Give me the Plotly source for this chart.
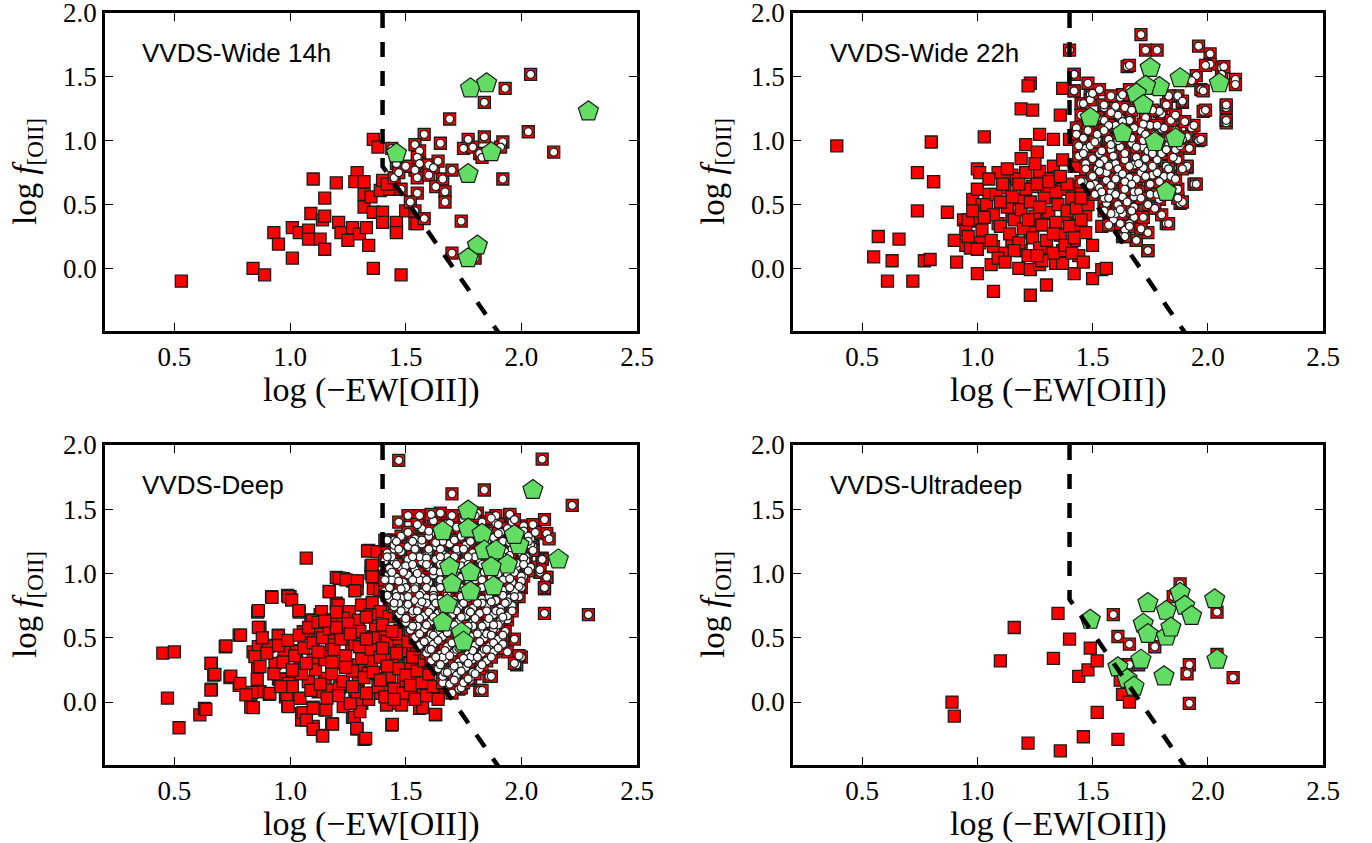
import plotly.graph_objects as go

# ---------------- data ----------------
panel_titles = ["VVDS-Wide 14h", "VVDS-Wide 22h", "VVDS-Deep", "VVDS-Ultradeep"]
x_ticks = [0.5, 1.0, 1.5, 2.0, 2.5]
y_ticks = [0.0, 0.5, 1.0, 1.5, 2.0]
sep_x = [1.4, 1.4, 1.9]
sep_y = [2.0, 0.8, -0.5]

# VVDS-Wide 14h
w14_red = [(0.53,-0.10),(0.84,0.00),(0.89,-0.05),(0.93,0.28),(0.95,0.19),(1.01,0.08),(1.01,0.32),(1.04,0.28),
           (1.08,0.30),(1.09,0.43),(1.08,0.23),(1.10,0.70),(1.14,0.38),(1.15,0.41),(1.15,0.55),(1.13,0.23),
           (1.15,0.15),(1.20,0.67),(1.21,0.36),(1.22,0.28),(1.25,0.22),(1.27,0.32),(1.29,0.75),(1.28,0.68),
           (1.30,0.27),(1.32,0.68),(1.32,0.58),(1.32,0.48),(1.33,0.32),(1.34,0.18),(1.35,0.56),(1.36,0.44),
           (1.36,1.01),(1.38,0.95),(1.36,0.00),(1.39,0.61),(1.40,0.69),(1.40,0.44),(1.40,0.36),(1.43,0.62),
           (1.46,0.30),(1.46,0.36),(1.48,-0.05),(1.50,0.45),(1.54,0.35),(1.55,0.35),(1.42,0.66),(1.46,0.28)]
w14_circ = [(2.04,1.52),(1.93,1.41),(1.84,1.30),(1.69,1.17),(2.03,1.07),(2.14,0.91),(1.92,0.70),(1.84,1.03),
            (1.92,0.99),(1.91,0.95),(1.77,1.01),(1.75,0.94),(1.79,0.95),(1.82,0.90),(1.83,0.87),(1.65,0.98),
            (1.58,1.05),(1.54,0.97),(1.56,0.92),(1.55,0.87),(1.56,0.82),(1.54,0.77),(1.55,0.71),(1.60,0.81),
            (1.62,0.79),(1.60,0.73),(1.64,0.84),(1.63,0.64),(1.66,0.70),(1.67,0.60),(1.67,0.52),(1.70,0.77),
            (1.50,0.80),(1.46,0.82),(1.45,0.71),(1.48,0.62),(1.55,0.59),(1.52,0.52),(1.54,0.45),(1.58,0.39),
            (1.74,0.37),(1.70,0.12),(1.80,0.08),(1.44,0.94),(1.47,0.75)]
w14_pent = [(1.46,0.90),(1.78,1.41),(1.85,1.45),(2.29,1.23),(1.87,0.91),(1.77,0.74),(1.81,0.18),(1.77,0.08)]

# VVDS-Wide 22h
w22_red = [(0.39,0.96),(0.57,0.25),(0.55,0.09),(0.61,-0.10),(0.63,0.06),(0.66,0.23),(0.72,-0.10),(0.74,0.45),
           (0.74,0.75),(0.77,0.06),(0.80,0.99),(0.81,0.68),(0.795,0.07),(0.81,0.68),
           (1.23,1.45),(1.22,1.43),(1.37,1.41),(1.19,1.25),(1.24,1.24),(1.36,1.20),(1.03,1.03),(1.27,1.05),
           (1.33,1.01),(1.21,0.97),(1.40,1.01),(1.19,0.86),(1.26,0.91),(1.00,0.78),(1.09,0.75),(1.15,0.73),
           (1.21,0.75),(1.27,0.76),(1.33,0.80),(1.37,0.85),(0.87,0.44),(0.98,0.54),(1.05,0.58),(1.12,0.63),
           (1.18,0.54),(1.24,0.64),(1.30,0.59),(1.34,0.56),(1.40,0.64),(1.45,0.59),(0.94,0.38),(0.99,0.37),
           (1.09,0.35),(1.15,0.41),(1.23,0.38),(1.29,0.43),(1.34,0.30),(1.39,0.41),(1.43,0.34),(1.47,0.42),
           (1.54,0.33),(0.90,0.22),(0.95,0.18),(1.01,0.20),(1.07,0.17),(1.15,0.22),(1.19,0.14),(1.23,0.28),
           (1.30,0.14),(1.37,0.14),(1.42,0.22),(1.50,0.18),(0.91,0.05),(1.00,-0.04),(1.06,0.03),(1.18,0.00),
           (1.23,-0.01),(1.27,0.03),(1.34,0.04),(1.37,0.04),(1.42,-0.04),(1.50,-0.08),(1.54,-0.01),(1.56,0.00),
           (1.07,-0.18),(1.23,-0.21),(1.30,-0.13),(0.97,0.16),(0.95,0.30),(0.96,0.38),(1.02,0.50),(1.01,0.75),
           (0.98,0.45),(1.00,0.62),(1.02,0.30),(1.04,0.50),(1.05,0.70),(1.06,0.22),(1.07,0.42),(1.08,0.58),
           (1.10,0.33),(1.11,0.66),(1.12,0.12),(1.13,0.48),(1.14,0.27),(1.15,0.56),(1.16,0.38),(1.17,0.70),
           (1.18,0.20),(1.19,0.46),(1.20,0.31),(1.21,0.62),(1.22,0.10),(1.23,0.52),(1.24,0.24),(1.25,0.41),
           (1.26,0.66),(1.27,0.16),(1.28,0.34),(1.29,0.55),(1.30,0.22),(1.31,0.44),(1.32,0.70),(1.33,0.12),
           (1.34,0.36),(1.35,0.50),(1.36,0.26),(1.37,0.62),(1.38,0.18),(1.39,0.45),(1.40,0.33),(1.41,0.55),
           (1.42,0.24),(1.43,0.47),(1.44,0.10),(1.45,0.38),(1.47,0.28),(1.48,0.50),(1.10,0.52),(1.16,0.14),
           (1.22,0.38),(1.28,0.06),(1.34,0.60),(1.03,0.40),(1.09,0.08),(1.21,0.75),(1.27,0.48),(1.33,0.27),
           (1.39,0.66),(1.45,0.55),(0.96,0.25),(1.00,0.15),(1.13,0.78),(1.25,0.82),(1.31,0.68),(1.18,0.66),
           (1.36,0.72),(1.42,0.80),(1.12,0.05),(1.26,0.10),(1.41,0.12),(1.46,0.05)]
w22_circ = [(1.71,1.83),(1.73,1.71),(1.78,1.71),(1.40,1.71),(1.96,1.74),(2.01,1.68),(2.01,1.60),(2.06,1.57),
            (1.65,1.58),(2.06,1.52),(2.12,1.48),(2.12,1.44),(1.95,1.51),(1.93,1.47),(1.97,1.40),(1.89,1.30),
            (1.87,1.35),(1.83,1.35),(1.80,1.21),(1.98,1.23),(2.08,1.26),(2.08,1.14),(1.93,1.10),(1.91,1.03),
            (1.96,1.00),(1.92,0.94),(1.91,0.79),(1.94,0.66),(1.88,0.51),(1.82,0.35),(1.80,1.09),(1.42,1.52),
            (1.42,1.39),(1.49,1.36),(1.49,1.32),(1.45,1.29),(1.62,1.34),(1.70,1.31),(1.55,1.26),(1.60,1.26),
            (1.64,1.26),(1.62,1.18),(1.66,1.17),(1.55,1.16),(1.43,1.10),(1.50,1.14),(1.60,1.12),(1.68,0.56),
            (1.68,0.40),(1.66,0.35),(1.64,0.30),(1.71,0.30),(1.69,0.22),(1.74,0.14),(1.63,0.25),(1.59,0.38),
            (1.60,0.43),(1.56,0.51),(1.51,0.66),(1.46,0.68),(1.51,0.58),
            (1.42,1.52),(1.42,1.39),(1.50,1.37),(1.46,1.29),(1.55,1.28),(1.60,1.27),(1.63,1.36),(1.66,1.59),
            (1.99,1.59),(2.07,1.58),(1.98,1.39),(1.89,1.31),(1.99,1.24),(2.08,1.28),(2.08,1.16),(1.79,1.23),
            (1.94,1.12),(1.97,1.01),(1.92,0.94),(1.91,0.80),(1.95,0.66),(1.89,0.52),(1.83,0.35),(1.74,0.14),
            (1.69,0.22),(1.64,0.25),(1.62,0.35),(1.58,0.43),(1.55,0.55),(1.49,0.65),(1.45,0.68),(1.43,1.05),
            (1.52,1.01),(1.57,1.11),(1.61,1.20),(1.66,1.16),(1.71,1.08),(1.75,1.12),(1.81,1.10),(1.86,1.08),
            (1.89,1.01),(1.83,0.97),(1.76,0.98),(1.72,0.95),(1.67,0.98),(1.62,0.95),(1.58,0.93),(1.53,0.90),
            (1.47,0.94),(1.44,0.88),(1.47,0.82),(1.52,0.78),(1.55,0.85),(1.60,0.82),(1.64,0.85),(1.68,0.81),
            (1.73,0.86),(1.78,0.85),(1.82,0.80),(1.87,0.85),(1.81,0.72),(1.76,0.73),(1.71,0.75),(1.66,0.71),
            (1.61,0.72),(1.56,0.69),(1.53,0.63),(1.58,0.60),(1.63,0.56),(1.68,0.60),(1.75,0.58),(1.79,0.54),
            (1.87,0.55),(1.68,0.48),(1.63,0.43),(1.66,0.33),(1.74,0.28),(1.71,0.31),
            (1.46,1.02),(1.49,0.96),(1.52,1.05),(1.54,0.92),(1.57,1.01),(1.59,0.88),(1.62,1.06),(1.64,0.90),
            (1.67,1.02),(1.69,0.87),(1.72,1.00),(1.74,0.92),(1.77,1.05),(1.80,0.90),(1.83,1.02),(1.86,0.93),
            (1.47,0.78),(1.50,0.72),(1.53,0.82),(1.56,0.75),(1.58,0.65),(1.61,0.78),(1.64,0.68),(1.66,0.80),
            (1.69,0.70),(1.72,0.79),(1.75,0.66),(1.78,0.75),(1.81,0.64),(1.84,0.72),(1.87,0.62),(1.52,1.18),
            (1.57,1.12),(1.63,1.15),(1.68,1.10),(1.73,1.18),(1.78,1.12),(1.84,1.16),(1.70,0.60),(1.74,0.50),
            (1.78,0.58),(1.60,0.58),(1.65,0.52),
            (1.45,1.20),(1.48,1.08),(1.51,0.99),(1.55,1.08),(1.58,0.97),(1.61,1.00),(1.65,1.09),(1.69,0.95),
            (1.73,1.05),(1.76,0.90),(1.79,1.00),(1.82,0.93),(1.85,0.87),(1.88,0.96),(1.44,0.96),(1.46,0.90),
            (1.50,0.86),(1.53,0.76),(1.57,0.80),(1.60,0.70),(1.63,0.74),(1.67,0.66),(1.70,0.82),(1.73,0.72),
            (1.76,0.80),(1.79,0.68),(1.83,0.78),(1.86,0.70),(1.89,0.78),(1.54,0.60),(1.57,0.55),(1.61,0.50),
            (1.64,0.62),(1.67,0.45),(1.71,0.55),(1.72,0.40),(1.77,0.47),(1.80,0.42),(1.58,1.22),(1.67,1.24),
            (1.72,1.13),(1.76,1.24),(1.82,1.28),(1.86,1.20),(1.90,1.15),(1.48,1.45),(1.53,1.40),(1.58,1.35),
            (1.66,1.40),(1.62,0.46),(1.57,0.34),(1.55,0.45)]
w22_pent = [(1.75,1.57),(1.88,1.49),(2.05,1.45),(1.79,1.42),(1.73,1.43),(1.69,1.37),(1.72,1.28),(1.49,1.18),
            (1.63,1.06),(1.77,0.99),(1.86,1.02),(1.82,0.60)]

# VVDS-Deep
deep_red = [(0.45,0.38),(0.50,0.39),(0.47,0.03),(0.52,-0.20),(0.61,-0.10),(0.63,-0.05),(0.66,0.30),(0.67,0.21),
            (0.66,0.10),(0.72,0.43),(0.74,0.19),(0.78,0.52),(0.78,0.13),(0.83,0.06),(0.83,-0.04),(0.86,0.70),
            (0.87,0.58),(0.84,0.39),(0.86,0.27),(0.87,0.08),(0.91,0.06),(0.92,0.82),(0.91,0.44),(0.95,0.52),
            (0.95,0.18),(0.98,0.12),(0.98,0.04),(0.99,-0.03),(0.99,0.83),(1.00,0.82),(1.00,0.18),(1.02,0.40),
            (1.03,0.03),(1.04,0.70),(1.05,-0.09),(1.05,-0.14),(1.07,1.12),(1.07,0.53),(1.09,0.64),(1.10,-0.19),
            (1.10,-0.04),(1.13,0.68),(1.14,-0.26),(1.15,-0.06),(1.15,0.18),(1.18,-0.17),(1.19,0.64),(1.20,0.77),
            (1.17,0.86),(1.20,0.97),(1.23,0.96),(1.27,0.94),(1.29,0.94),(1.29,0.88),(1.27,-0.12),(1.29,-0.21),
            (1.32,-0.29),(1.31,-0.01),(1.34,1.18),(1.35,1.06),(1.35,1.00),(1.36,0.88),(1.44,-0.18),(1.63,-0.10),
            (1.56,-0.05),(1.59,0.10),(1.64,0.05),(1.51,0.06),(1.44,-0.01),
            (1.335,1.175),(1.355,1.066),(1.377,1.17),(1.213,0.963),(1.242,0.95),(1.291,0.942),(1.28,0.866),
            (1.169,0.859),(1.355,0.975),(1.388,0.872),(0.922,0.815),(0.992,0.82),(1.007,0.794),(1.038,0.711),
            (0.863,0.711),(1.208,0.755),(1.256,0.703),(1.309,0.755),(1.355,0.773),(1.391,0.703),(1.136,0.703),
            (1.18,0.638),(1.23,0.651),(1.295,0.638),(1.345,0.677),(1.429,0.664),(0.863,0.581),(0.786,0.521),
            (0.949,0.514),(1.057,0.547),(1.096,0.633),(1.129,0.535),(1.19,0.522),(1.249,0.56),(1.302,0.547),
            (1.36,0.509),(1.403,0.509),(1.453,0.521),(1.475,0.56),(0.723,0.436),(0.863,0.431),(0.906,0.436),
            (0.974,0.405),(1.028,0.392),(1.136,0.384),(1.18,0.444),(1.266,0.452),(1.331,0.41),(1.396,0.444),
            (1.42,0.392),(1.468,0.444),(1.508,0.379),(1.547,0.431),(0.658,0.301),(0.848,0.353),(0.87,0.275),
            (0.935,0.301),(1.043,0.275),(1.10,0.327),(1.201,0.301),(1.244,0.27),(1.295,0.288),(1.353,0.314),
            (1.417,0.301),(1.46,0.275),(1.518,0.301),(1.569,0.275),(0.675,0.215),(0.744,0.202),(0.858,0.176),
            (0.956,0.176),(0.992,0.145),(1.079,0.158),(1.151,0.184),(1.216,0.145),(1.295,0.171),(1.338,0.223),
            (1.41,0.184),(1.489,0.166),(1.533,0.197),(1.593,0.119),(0.783,0.145),(0.658,0.093),(0.834,0.075),
            (0.913,0.068),(0.986,0.055),(1.043,0.029),(1.122,0.08),(1.169,0.093),(1.213,0.106),(1.28,0.093),
            (1.36,0.068),(1.425,0.08),(1.475,0.021),(1.525,0.055),(1.576,0.08),(1.641,0.068),(0.809,0.055),
            (0.636,-0.057),(0.841,-0.044),(0.992,-0.036),(1.057,-0.083),(1.10,-0.049),(1.155,-0.062),
            (1.23,-0.036),(1.278,-0.119),(1.305,-0.005),(1.302,-0.075),(1.417,-0.023),(1.482,-0.023),
            (1.573,-0.044),(1.628,-0.096),(1.071,-0.14),(1.184,-0.171),(1.10,-0.213),(1.141,-0.265),
            (1.288,-0.205),(1.327,-0.283),(1.442,-0.174),
            (0.88,0.50),(0.90,0.38),(0.93,0.22),(0.95,0.44),(0.97,0.31),(0.99,0.48),(1.01,0.12),(1.02,0.36),
            (1.04,0.52),(1.05,0.22),(1.06,0.42),(1.08,0.58),(1.09,0.09),(1.10,0.46),(1.11,0.25),(1.12,0.62),
            (1.13,0.14),(1.14,0.50),(1.15,0.33),(1.16,0.03),(1.17,0.57),(1.18,0.22),(1.19,0.41),(1.20,0.70),
            (1.21,0.05),(1.22,0.49),(1.23,0.16),(1.24,0.36),(1.25,0.61),(1.26,-0.01),(1.27,0.24),(1.28,0.45),
            (1.29,0.08),(1.30,0.55),(1.31,0.34),(1.32,0.19),(1.33,0.66),(1.34,0.02),(1.35,0.41),(1.36,0.23),
            (1.37,0.57),(1.38,0.12),(1.39,0.35),(1.40,0.60),(1.41,0.04),(1.42,0.47),(1.43,0.20),(1.44,0.33),
            (1.45,0.10),(1.46,0.53),(1.47,0.26),(1.48,0.40),(1.49,0.07),(1.50,0.21),(1.51,0.47),(1.52,0.13),
            (1.53,0.35),(1.54,0.02),(1.55,0.24),(1.56,0.41),(1.57,0.15),(1.58,0.32),(1.59,0.05),(1.60,0.22),
            (1.61,0.30),(1.62,0.12),(1.64,0.02),(1.12,0.39),(1.18,0.31),(1.24,0.27),(1.30,0.43),(1.36,0.50),
            (1.42,0.28),(1.46,0.38),(1.07,0.30),(1.01,0.25),(0.96,0.12),(1.27,0.12),(1.33,0.07),(1.39,0.17),
            (1.45,0.02),(1.20,0.58),(1.15,0.63),(1.26,0.53),(1.33,0.49),(1.40,0.42),(1.44,0.55)]
deep_circ = [(1.47,1.88),(2.09,1.89),(1.70,1.62),(1.84,1.65),(2.22,1.53),(1.51,1.45),(1.56,1.45),(1.65,1.47),
             (1.41,1.26),(1.45,1.26),(1.45,1.19),(1.54,1.23),(2.10,1.42),(2.11,1.31),(2.12,1.27),(2.09,1.12),
             (2.08,1.01),(2.11,0.97),(2.10,0.88),(2.10,0.69),(2.29,0.68),(2.00,0.35),(1.98,0.29),(1.86,0.20),
             (1.82,0.09),(1.73,0.10),(1.67,0.13),(1.97,0.49),(1.94,0.39),(1.90,0.42),(2.05,1.22),(2.01,1.36),
             (1.95,1.45),(1.89,1.45),(1.81,1.47),(1.89,1.39),(1.95,1.46),(1.96,1.40),(2.01,1.37),(2.04,1.27),
             (2.05,1.21),(1.42,1.26),(1.55,1.23),(1.59,1.14),(1.61,1.31),(1.68,1.39),(1.74,1.29),(1.91,1.32),
             (1.93,1.25),(2.09,1.11),(2.08,1.03),(2.11,0.97),(2.10,0.89),(2.02,1.13),(2.04,1.05),(2.01,0.98),
             (2.00,0.89),(1.99,0.82),(1.96,0.74),(1.94,0.64),(1.89,0.57),(1.92,0.51),(1.99,0.36),(1.97,0.30),
             (1.89,0.40),(1.87,0.20),(1.83,0.09),(1.78,0.17),(1.74,0.11),(1.66,0.15),(1.70,0.07),
             (1.62,1.41),(1.69,1.39),(1.75,1.42),(1.83,1.40),(1.90,1.38),(1.57,1.35),(1.64,1.33),(1.72,1.36),
             (1.79,1.34),(1.86,1.33),(1.94,1.35),(2.01,1.33),(1.48,1.29),(1.54,1.27),(1.60,1.29),(1.67,1.27),
             (1.74,1.29),(1.81,1.27),(1.88,1.28),(1.96,1.27),(2.03,1.29),(1.45,1.22),(1.51,1.21),(1.57,1.23),
             (1.63,1.21),(1.69,1.23),(1.76,1.22),(1.83,1.21),(1.90,1.23),(1.97,1.21),(2.04,1.22),(1.42,1.16),
             (1.48,1.17),(1.54,1.15),(1.60,1.17),(1.66,1.15),(1.72,1.17),(1.79,1.16),(1.86,1.15),(1.93,1.17),
             (2.00,1.16),(1.41,1.10),(1.45,1.09),(1.51,1.11),(1.57,1.09),(1.63,1.11),(1.69,1.10),(1.75,1.09),
             (1.82,1.11),(1.89,1.09),(1.95,1.11),(2.02,1.10),(1.43,1.04),(1.48,1.05),(1.54,1.03),(1.60,1.05),
             (1.66,1.04),(1.72,1.03),(1.79,1.05),(1.85,1.04),(1.92,1.03),(1.98,1.05),(1.41,0.98),(1.46,0.97),
             (1.51,0.99),(1.57,0.97),(1.62,0.99),(1.68,0.98),(1.74,0.97),(1.81,0.99),(1.87,0.97),(1.94,0.99),
             (2.00,0.98),(1.43,0.92),(1.49,0.93),(1.54,0.91),(1.60,0.93),(1.65,0.92),(1.71,0.91),(1.77,0.93),
             (1.84,0.92),(1.90,0.91),(1.96,0.93),(1.41,0.86),(1.46,0.85),(1.51,0.87),(1.57,0.85),(1.62,0.87),
             (1.68,0.86),(1.74,0.85),(1.80,0.87),(1.86,0.85),(1.92,0.87),(1.97,0.86),(1.43,0.80),(1.48,0.81),
             (1.54,0.79),(1.59,0.81),(1.65,0.80),(1.71,0.79),(1.77,0.81),(1.83,0.80),(1.89,0.79),(1.95,0.81),
             (1.45,0.74),(1.50,0.73),(1.56,0.75),(1.61,0.73),(1.67,0.75),(1.73,0.74),(1.79,0.73),(1.85,0.75),
             (1.91,0.73),(1.96,0.75),(1.47,0.68),(1.53,0.69),(1.58,0.67),(1.64,0.69),(1.70,0.68),(1.76,0.67),
             (1.82,0.69),(1.88,0.68),(1.94,0.67),(1.50,0.62),(1.55,0.61),(1.61,0.63),(1.67,0.61),(1.73,0.63),
             (1.79,0.62),(1.85,0.61),(1.91,0.63),(1.52,0.56),(1.58,0.57),(1.64,0.55),(1.70,0.57),(1.76,0.56),
             (1.82,0.55),(1.88,0.57),(1.93,0.55),(1.54,0.50),(1.60,0.49),(1.66,0.51),(1.72,0.49),(1.78,0.51),
             (1.84,0.50),(1.90,0.49),(1.56,0.44),(1.62,0.45),(1.68,0.43),(1.74,0.45),(1.80,0.44),(1.86,0.43),
             (1.92,0.45),(1.59,0.38),(1.65,0.37),(1.71,0.39),(1.77,0.37),(1.83,0.38),(1.88,0.39),(1.61,0.32),
             (1.67,0.33),(1.73,0.31),(1.79,0.33),(1.85,0.32),(1.64,0.26),(1.70,0.25),(1.76,0.27),(1.82,0.26),
             (1.66,0.20),(1.72,0.21),(1.78,0.19),(1.69,0.14),(1.75,0.15),
             (1.44,1.13),(1.50,1.06),(1.56,1.13),(1.62,1.02),(1.68,1.13),(1.74,1.06),(1.80,1.13),(1.86,1.07),
             (1.92,1.13),(1.98,1.08),(1.44,0.95),(1.50,0.89),(1.56,0.95),(1.62,0.83),(1.68,0.95),(1.74,0.89),
             (1.80,0.95),(1.86,0.89),(1.92,0.95),(1.47,0.77),(1.53,0.71),(1.59,0.77),(1.65,0.65),(1.71,0.77),
             (1.77,0.71),(1.83,0.77),(1.89,0.71),(1.94,0.78),(1.55,0.59),(1.61,0.53),(1.67,0.59),(1.73,0.53),
             (1.79,0.59),(1.85,0.53),(1.90,0.60),(1.60,0.41),(1.66,0.35),(1.72,0.41),(1.78,0.35),(1.84,0.41),
             (1.67,0.23),(1.73,0.28),(1.79,0.23),(1.53,1.25),(1.60,1.19),(1.66,1.25),(1.72,1.19),(1.78,1.25),
             (1.85,1.19),(1.92,1.25),(1.99,1.19),(1.66,1.37),(1.77,1.31),(1.90,1.31),
             (1.47,1.40),(1.55,1.38),(1.61,1.46),(1.70,1.45),(1.80,1.45),(1.87,1.43),(1.97,1.42),(2.05,1.38),
             (1.51,1.32),(1.60,1.33),(1.68,1.31),(1.83,1.33),(1.98,1.31),(2.06,1.32),(1.46,1.25),(1.57,1.26),
             (1.63,1.24),(1.71,1.26),(1.85,1.25),(1.95,1.24),(2.03,1.25),(1.47,1.19),(1.54,1.19),(1.65,1.19),
             (1.75,1.19),(1.82,1.18),(1.96,1.19),(2.05,1.18),(1.42,1.13),(1.53,1.13),(1.59,1.12),(1.65,1.13),
             (1.71,1.13),(1.77,1.13),(1.83,1.14),(1.89,1.13),(1.95,1.14),(2.01,1.12),(1.46,1.07),(1.53,1.07),
             (1.59,1.07),(1.65,1.07),(1.71,1.07),(1.77,1.07),(1.83,1.07),(1.89,1.06),(1.95,1.07),(2.01,1.07),
             (1.44,1.01),(1.49,1.01),(1.55,1.00),(1.65,1.01),(1.71,1.00),(1.77,1.01),(1.84,1.01),(1.90,1.00),
             (1.97,1.01),(2.03,1.02),(1.41,0.95),(1.47,0.94),(1.53,0.95),(1.59,0.95),(1.65,0.95),(1.71,0.95),
             (1.77,0.95),(1.83,0.95),(1.89,0.94),(1.95,0.96),(2.00,0.94),(1.43,0.89),(1.48,0.88),(1.54,0.88),
             (1.59,0.89),(1.65,0.89),(1.71,0.88),(1.77,0.89),(1.83,0.89),(1.89,0.88),(1.95,0.89),(1.99,0.90),
             (1.42,0.83),(1.46,0.82),(1.51,0.82),(1.56,0.83),(1.62,0.81),(1.68,0.83),(1.74,0.82),(1.80,0.83),
             (1.86,0.82),(1.92,0.83),(1.97,0.82),(1.45,0.77),(1.51,0.76),(1.57,0.78),(1.63,0.77),(1.69,0.77),
             (1.75,0.77),(1.81,0.77),(1.87,0.78),(1.93,0.77),(1.48,0.71),(1.55,0.71),(1.60,0.70),(1.66,0.71),
             (1.72,0.71),(1.78,0.70),(1.85,0.71),(1.91,0.70),(1.96,0.71),(1.50,0.65),(1.56,0.65),(1.62,0.66),
             (1.68,0.65),(1.74,0.66),(1.80,0.65),(1.86,0.65),(1.92,0.66),(1.53,0.59),(1.59,0.60),(1.65,0.58),
             (1.71,0.60),(1.77,0.59),(1.83,0.59),(1.88,0.60),(1.56,0.53),(1.62,0.52),(1.68,0.54),(1.75,0.53),
             (1.81,0.53),(1.87,0.52),(1.92,0.52),(1.58,0.47),(1.64,0.48),(1.70,0.46),(1.76,0.48),(1.82,0.47),
             (1.88,0.46),(1.61,0.41),(1.67,0.40),(1.73,0.42),(1.79,0.40),(1.85,0.41),(1.90,0.42),(1.63,0.35),
             (1.69,0.36),(1.75,0.34),(1.81,0.35),(1.87,0.35),(1.65,0.29),(1.71,0.28),(1.77,0.30),(1.83,0.29),
             (1.68,0.23),(1.74,0.24),(1.80,0.22),(1.71,0.17),(1.77,0.18)]
deep_pent = [(2.05,1.65),(2.16,1.11),(1.77,1.49),(1.66,1.33),(1.77,1.35),(1.83,1.31),(1.84,1.18),(1.89,1.18),
             (1.99,1.22),(1.94,1.07),(1.87,1.05),(1.69,1.05),(1.78,1.01),(1.70,0.92),(1.78,0.86),(1.88,0.90),
             (1.68,0.76),(1.66,0.62),(1.74,0.54),(1.75,0.47),(1.97,1.30)]

# VVDS-Ultradeep
ud_red = [(0.89,0.00),(0.90,-0.11),(1.10,0.32),(1.16,0.58),(1.22,-0.32),(1.33,0.34),(1.35,0.69),(1.36,-0.38),
          (1.40,0.49),(1.44,0.20),(1.46,-0.27),(1.48,0.25),(1.49,0.42),(1.52,-0.08),(1.52,0.32),(1.61,-0.29),
          (1.62,0.17),(1.63,0.06),(1.66,0.00),(1.64,0.29)]
ud_circ = [(1.59,0.68),(1.61,0.51),(1.66,0.45),(1.77,0.43),(1.88,0.92),(1.85,0.82),(2.04,0.70),(2.04,0.37),
           (1.92,0.29),(1.91,0.22),(1.92,-0.01),(2.11,0.19),(1.66,0.29),(1.70,0.29)]
ud_pent = [(1.49,0.64),(1.61,0.27),(1.71,0.33),(1.65,0.18),(1.68,0.12),(1.74,0.77),(1.72,0.61),(1.74,0.53),
           (1.82,0.71),(1.82,0.51),(1.84,0.58),(1.88,0.85),(1.90,0.75),(1.93,0.67),(1.81,0.20),(2.03,0.80),
           (2.04,0.33)]

panels = [(w14_red, w14_circ, w14_pent), (w22_red, w22_circ, w22_pent),
          (deep_red, deep_circ, deep_pent), (ud_red, ud_circ, ud_pent)]

# ---------------- figure ----------------
W, H = 1372, 843
RED = "#ff0000"
GREEN = "#63dc63"
OUTLINE = "#1a1a1a"

# panel frames in pixels (left, right, top, bottom)
frames = [(105, 637, 13, 331), (793, 1323, 13, 331), (105, 637, 445, 765), (793, 1323, 445, 765)]

fig = go.Figure()
SERIF = "Liberation Serif, Times New Roman, serif"
SANS = "Liberation Sans, Arial, sans-serif"

def unzip(pts):
    return [p[0] for p in pts], [p[1] for p in pts]

layout = dict(template="none", width=W, height=H,
              margin=dict(l=0, r=0, t=0, b=0, pad=0, autoexpand=False),
              paper_bgcolor="white", plot_bgcolor="white", showlegend=False,
              font=dict(family=SERIF, color="black"))
annotations = []
for i, (red, circ, pent) in enumerate(panels):
    n = "" if i == 0 else str(i + 1)
    xa, ya = "x" + n, "y" + n
    sq_pts = red + circ
    sx, sy = unzip(sq_pts)
    fig.add_trace(go.Scatter(x=sx, y=sy, xaxis=xa, yaxis=ya, mode="markers", cliponaxis=True,
                             marker=dict(symbol="square", size=12, color=RED,
                                         line=dict(color=OUTLINE, width=1.3))))
    cx, cy = unzip(circ)
    fig.add_trace(go.Scatter(x=cx, y=cy, xaxis=xa, yaxis=ya, mode="markers", cliponaxis=True,
                             marker=dict(symbol="circle", size=8, color="white",
                                         line=dict(color=OUTLINE, width=1.2))))
    px_, py_ = unzip(pent)
    fig.add_trace(go.Scatter(x=px_, y=py_, xaxis=xa, yaxis=ya, mode="markers", cliponaxis=True,
                             marker=dict(symbol="pentagon", size=21, color=GREEN,
                                         line=dict(color=OUTLINE, width=1.2))))
    fig.add_trace(go.Scatter(x=sep_x, y=sep_y, xaxis=xa, yaxis=ya, mode="lines",
                             line=dict(color="black", width=4.5, dash="15px,14px")))
    l, r, t, b = frames[i]
    axis_common = dict(showline=True, linewidth=2.5, linecolor="black", mirror="ticks",
                       ticks="inside", ticklen=8, tickwidth=1.3, tickcolor="black",
                       showgrid=False, zeroline=False, automargin=False, ticklabeloverflow="allow",
                       tickfont=dict(family=SERIF, size=27, color="black"))
    layout["xaxis" + n] = dict(axis_common, domain=[l / W, r / W], range=[0.2, 2.5], anchor=ya,
                               tickvals=x_ticks, ticktext=["%.1f" % v for v in x_ticks])
    layout["yaxis" + n] = dict(axis_common, domain=[1 - b / H, 1 - t / H], range=[-0.49, 2.0], anchor=xa,
                               tickvals=y_ticks, ticktext=["%.1f" % v for v in y_ticks])
    annotations.append(dict(text=panel_titles[i], xref=xa, yref=ya, x=0.35, y=1.69,
                            xanchor="left", yanchor="middle", showarrow=False,
                            font=dict(family=SANS, size=26, color="black")))
    annotations.append(dict(text="log (\u2212EW[OII])", xref="paper", yref="paper",
                            x=(l + r) / 2 / W, y=1 - (b + 59) / H, xanchor="center", yanchor="middle",
                            showarrow=False, font=dict(family=SERIF, size=34, color="black")))
    annotations.append(dict(text="log <i>f</i><sub>[OII]</sub>", xref="paper", yref="paper",
                            x=(l - 78) / W, y=1 - (t + b) / 2 / H, xanchor="center", yanchor="middle",
                            textangle=-90, showarrow=False,
                            font=dict(family=SERIF, size=33, color="black")))

layout["annotations"] = annotations
fig.update_layout(**layout)
fig.write_html("out.html", config={"displayModeBar": False},
               post_script="document.body.style.margin='0px';document.body.style.overflow='hidden';")
